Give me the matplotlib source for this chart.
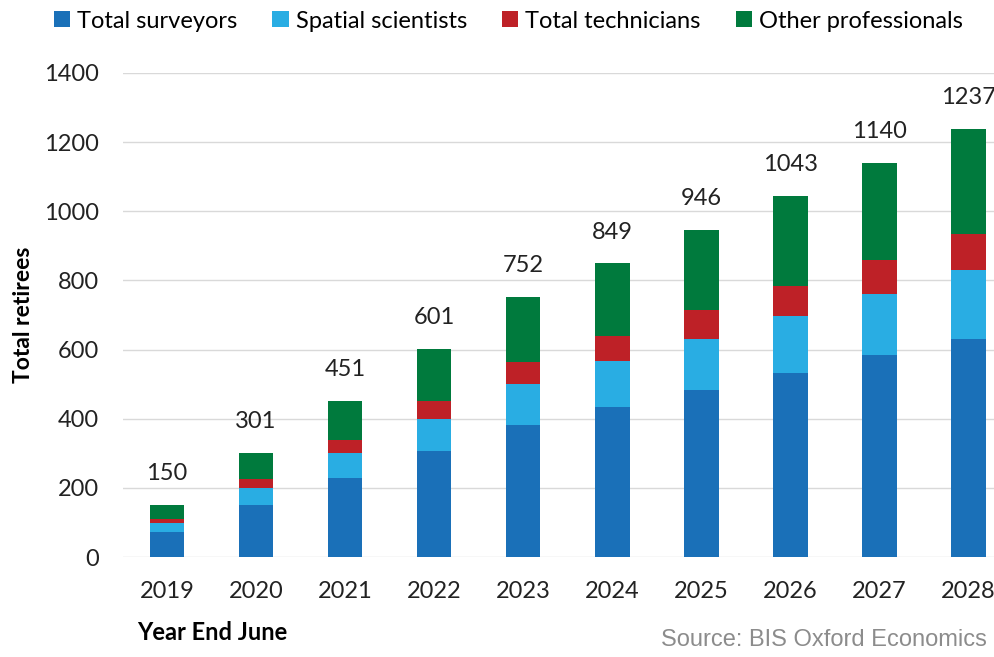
import matplotlib.pyplot as plt
import numpy as np

years = ['2019', '2020', '2021', '2022', '2023', '2024', '2025', '2026', '2027', '2028']
surveyors = [73, 152, 229, 308, 382, 434, 484, 532, 584, 632]
spatial = [27, 48, 73, 92, 118, 134, 148, 166, 178, 197]
technicians = [11, 26, 37, 52, 63, 71, 82, 86, 97, 104]
other = [39, 75, 112, 149, 189, 210, 232, 259, 281, 304]
totals = [150, 301, 451, 601, 752, 849, 946, 1043, 1140, 1237]

series = [
    ('Total surveyors', surveyors, '#1a70b8'),
    ('Spatial scientists', spatial, '#29ade3'),
    ('Total technicians', technicians, '#be2127'),
    ('Other professionals', other, '#007a3d'),
]

plt.rcParams['font.family'] = ['Lato', 'DejaVu Sans']

fig = plt.figure(figsize=(9.95, 6.57), dpi=100)
ax = fig.add_axes([0.1236, 0.152, 0.8764, 0.737])

x = np.arange(len(years))
bottom = np.zeros(len(years))
for name, vals, col in series:
    ax.bar(x, vals, 0.39, bottom=bottom, color=col, label=name, zorder=3)
    bottom += np.array(vals)

# totals above the bars
for xi, b, t in zip(x, bottom, totals):
    ax.text(xi, b + 72, str(t), ha='center', va='baseline', fontsize=17, color='#222222')

ax.set_ylim(0, 1400)
ax.set_xlim(-0.494, 9.30)
ax.set_yticks(range(0, 1401, 200))
ax.set_xticks(x)
ax.set_xticklabels(years)
ax.tick_params(axis='both', length=0, labelsize=17, colors='#222222')
ax.tick_params(axis='x', pad=17)
ax.tick_params(axis='y', pad=17)
ax.grid(axis='y', color='#d9d9d9', linewidth=1, zorder=0)
for s in ax.spines.values():
    s.set_visible(False)

fig.text(23.5 / 995, 1 - 315 / 657, 'Total retirees', rotation=90, fontsize=16.5,
         fontweight='bold', ha='center', va='center')

fig.legend(loc='center', bbox_to_anchor=(0.511, 0.968), ncol=4, frameon=False,
           fontsize=17, handlelength=0.68, handleheight=0.68, handletextpad=0.3,
           columnspacing=1.5)

fig.text(137 / 995, 1 - 632 / 657, 'Year End June', fontsize=17, fontweight='bold',
         ha='left', va='center')
fig.text(0.992, 1 - 640 / 657, 'Source: BIS Oxford Economics', fontsize=17, color='#8c8c8c',
         ha='right', va='center', family=['Liberation Sans', 'DejaVu Sans'])

fig.savefig('out.png', dpi=100)
